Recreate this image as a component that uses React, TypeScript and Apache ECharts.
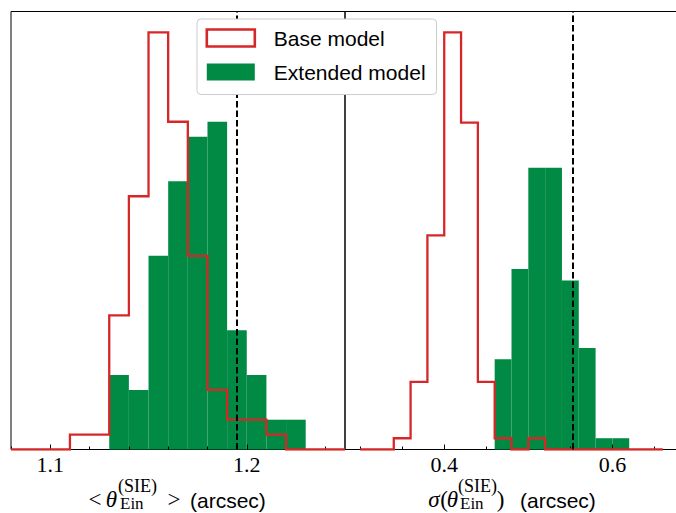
import React, { useEffect, useRef } from "react";
import * as echarts from "echarts";

// ---------- data ----------
const leftEdges = [1.08, 1.09, 1.1, 1.11, 1.12, 1.13, 1.14, 1.15, 1.16, 1.17, 1.18, 1.19, 1.2, 1.21, 1.22, 1.23, 1.24, 1.25];
const leftBase = [0, 0, 0, 1, 1, 9, 17, 28, 22, 13, 4, 2, 2, 1, 0, 0, 0];
const leftExt = [0, 0, 0, 0, 0, 5, 4, 13, 18, 21, 22, 8, 5, 2, 2, 0, 0];
const leftTrue = 1.195;
const leftXRange = [1.08, 1.25];
const leftYMax = 29.4;
const leftMajorTicks = [1.1, 1.2];
const leftMinorTicks = [1.08, 1.12, 1.14, 1.16, 1.18, 1.22, 1.24];

const rightEdges = [0.3, 0.32, 0.34, 0.36, 0.38, 0.4, 0.42, 0.44, 0.46, 0.48, 0.5, 0.52, 0.54, 0.56, 0.58, 0.6, 0.62, 0.64, 0.66];
const rightBase = [0, 0, 0.5, 3, 9.5, 18.5, 14.5, 3, 0.5, 0, 0.5, 0, 0, 0, 0, 0, 0, 0];
const rightExt = [0, 0, 0, 0, 0, 0, 0, 0, 4, 8, 12.5, 12.5, 7.5, 4.5, 0.5, 0.5, 0, 0];
const rightTrue = 0.5525;
const rightXRange = [0.282, 0.678];
const rightYMax = 19.425;
const rightMajorTicks = [0.4, 0.6];
const rightMinorTicks = [0.3, 0.35, 0.45, 0.5, 0.55, 0.65];

const seriesNames = ["Base model", "Extended model"];

const RED = "#d62728";
const GREEN = "#008a44";
const SERIF = '"Liberation Serif", "DejaVu Serif", serif';
const SANS = '"Liberation Sans", Arial, sans-serif';

function stepPoints(edges: number[], counts: number[]) {
  const pts: number[][] = [[edges[0], 0]];
  counts.forEach((c, i) => {
    pts.push([edges[i], c]);
    pts.push([edges[i + 1], c]);
  });
  pts.push([edges[edges.length - 1], 0]);
  return pts;
}

function barData(edges: number[], counts: number[]) {
  const out: number[][] = [];
  counts.forEach((c, i) => {
    if (c > 0) out.push([edges[i], edges[i + 1], c]);
  });
  return out;
}

function renderBar(params: any, api: any) {
  const p0 = api.coord([api.value(0), api.value(2)]);
  const p1 = api.coord([api.value(1), 0]);
  return {
    type: "rect",
    shape: { x: p0[0], y: p0[1], width: p1[0] - p0[0], height: p1[1] - p0[1] },
    style: { fill: GREEN },
  };
}

function fmt(v: number) {
  return v.toFixed(1);
}

function mainAxis(gridIndex: number, range: number[], major: number[]) {
  return {
    type: "value",
    gridIndex,
    position: "bottom",
    min: range[0],
    max: range[1],
    z: 3,
    axisLine: { show: false },
    splitLine: { show: false },
    axisTick: {
      show: true,
      inside: true,
      length: 5,
      customValues: major,
      lineStyle: { color: "#000", width: 1 },
    },
    axisLabel: {
      show: true,
      customValues: major,
      formatter: fmt,
      margin: 4,
      fontFamily: SERIF,
      fontSize: 22,
      color: "#000",
    },
  };
}

function minorAxis(gridIndex: number, range: number[], minor: number[]) {
  return {
    type: "value",
    gridIndex,
    position: "bottom",
    offset: 0,
    min: range[0],
    max: range[1],
    z: 3,
    axisLine: { show: false },
    splitLine: { show: false },
    axisTick: {
      show: true,
      inside: true,
      length: 3,
      customValues: minor,
      lineStyle: { color: "#000", width: 1 },
    },
    axisLabel: { show: false },
  };
}

function txt(x: number, y: number, text: string, size: number, family: string, italic = false, align = "left") {
  return {
    type: "text",
    x,
    y,
    z: 20,
    style: {
      text,
      fontSize: size,
      fontFamily: family,
      fontStyle: italic ? "italic" : "normal",
      fill: "#000",
      align,
      verticalAlign: "middle",
    },
  };
}

function dashed(value: number) {
  return {
    silent: true,
    precision: 6,
    symbol: ["none", "none"],
    label: { show: false },
    lineStyle: { color: "#000", type: [6.5, 3], width: 2 },
    data: [{ xAxis: value }],
  };
}

export default function App() {
  const ref = useRef<HTMLDivElement>(null);

  useEffect(() => {
    if (!ref.current) return;
    const chart = echarts.init(ref.current, undefined, { renderer: "svg" });

    const option: any = {
      animation: false,
      backgroundColor: "#ffffff",
      textStyle: { fontFamily: SANS },
      grid: [
        { left: 11, top: 11.5, width: 334, height: 438, show: true, borderColor: "#000", borderWidth: 1, backgroundColor: "transparent" },
        { left: 345, top: 11.5, width: 333, height: 438, show: true, borderColor: "#000", borderWidth: 1, backgroundColor: "transparent" },
      ],
      xAxis: [
        mainAxis(0, leftXRange, leftMajorTicks),
        mainAxis(1, rightXRange, rightMajorTicks),
        minorAxis(0, leftXRange, leftMinorTicks),
        minorAxis(1, rightXRange, rightMinorTicks),
      ],
      yAxis: [
        { type: "value", gridIndex: 0, min: 0, max: leftYMax, show: false, splitLine: { show: false } },
        { type: "value", gridIndex: 1, min: 0, max: rightYMax, show: false, splitLine: { show: false } },
      ],
      legend: {
        show: true,
        orient: "vertical",
        left: 197,
        top: 19,
        z: 10,
        padding: [8.5, 11, 12, 8.5],
        itemWidth: 48,
        itemHeight: 17,
        itemGap: 13,
        backgroundColor: "#ffffff",
        borderColor: "#cccccc",
        borderWidth: 1,
        borderRadius: 4,
        textStyle: { fontSize: 21, fontFamily: SANS, color: "#000", padding: [0, 0, 0, 14] },
        data: [
          { name: seriesNames[0], icon: "rect", itemStyle: { color: "#ffffff", borderColor: RED, borderWidth: 2.6 } },
          { name: seriesNames[1], icon: "rect", itemStyle: { color: GREEN, borderWidth: 0 } },
        ],
      },
      series: [
        {
          name: seriesNames[1],
          type: "custom",
          xAxisIndex: 0,
          yAxisIndex: 0,
          z: 2,
          itemStyle: { color: GREEN },
          renderItem: renderBar,
          encode: { x: [0, 1], y: 2 },
          data: barData(leftEdges, leftExt),
        },
        {
          name: seriesNames[1],
          type: "custom",
          xAxisIndex: 1,
          yAxisIndex: 1,
          z: 2,
          itemStyle: { color: GREEN },
          renderItem: renderBar,
          encode: { x: [0, 1], y: 2 },
          data: barData(rightEdges, rightExt),
        },
        {
          name: seriesNames[0],
          type: "line",
          xAxisIndex: 0,
          yAxisIndex: 0,
          z: 4,
          symbol: "none",
          silent: true,
          itemStyle: { color: RED },
          lineStyle: { color: RED, width: 2.3, join: "miter" },
          data: stepPoints(leftEdges, leftBase),
          markLine: dashed(leftTrue),
        },
        {
          name: seriesNames[0],
          type: "line",
          xAxisIndex: 1,
          yAxisIndex: 1,
          z: 4,
          symbol: "none",
          silent: true,
          itemStyle: { color: RED },
          lineStyle: { color: RED, width: 2.3, join: "miter" },
          data: stepPoints(rightEdges, rightBase),
          markLine: dashed(rightTrue),
        },
      ],
      graphic: [
        // left axis title: < θ_Ein^(SIE) > (arcsec)
        txt(95, 499.5, "<", 23, SERIF, false, "center"),
        txt(111.5, 499.5, "θ", 23, SERIF, true, "center"),
        txt(118, 485.5, "(SIE)", 18, SERIF),
        txt(120, 503.5, "Ein", 17, SERIF),
        txt(174, 499.5, ">", 23, SERIF, false, "center"),
        txt(190, 500, "(arcsec)", 21, SANS),
        // right axis title: σ(θ_Ein^(SIE)) (arcsec)
        txt(434, 499.5, "σ", 23, SERIF, true, "center"),
        txt(444, 499.5, "(", 23, SERIF, false, "center"),
        txt(452.5, 499.5, "θ", 23, SERIF, true, "center"),
        txt(458, 485.5, "(SIE)", 18, SERIF),
        txt(460, 503.5, "Ein", 17, SERIF),
        txt(500.5, 499.5, ")", 23, SERIF, false, "center"),
        txt(520, 500, "(arcsec)", 21, SANS),
      ],
    };

    chart.setOption(option);
    return () => chart.dispose();
  }, []);

  return (
    <div style={{ position: "absolute", left: 0, top: 0, width: 676, height: 513, overflow: "hidden", background: "#fff" }}>
      <div ref={ref} style={{ width: 680, height: 513 }} />
    </div>
  );
}
